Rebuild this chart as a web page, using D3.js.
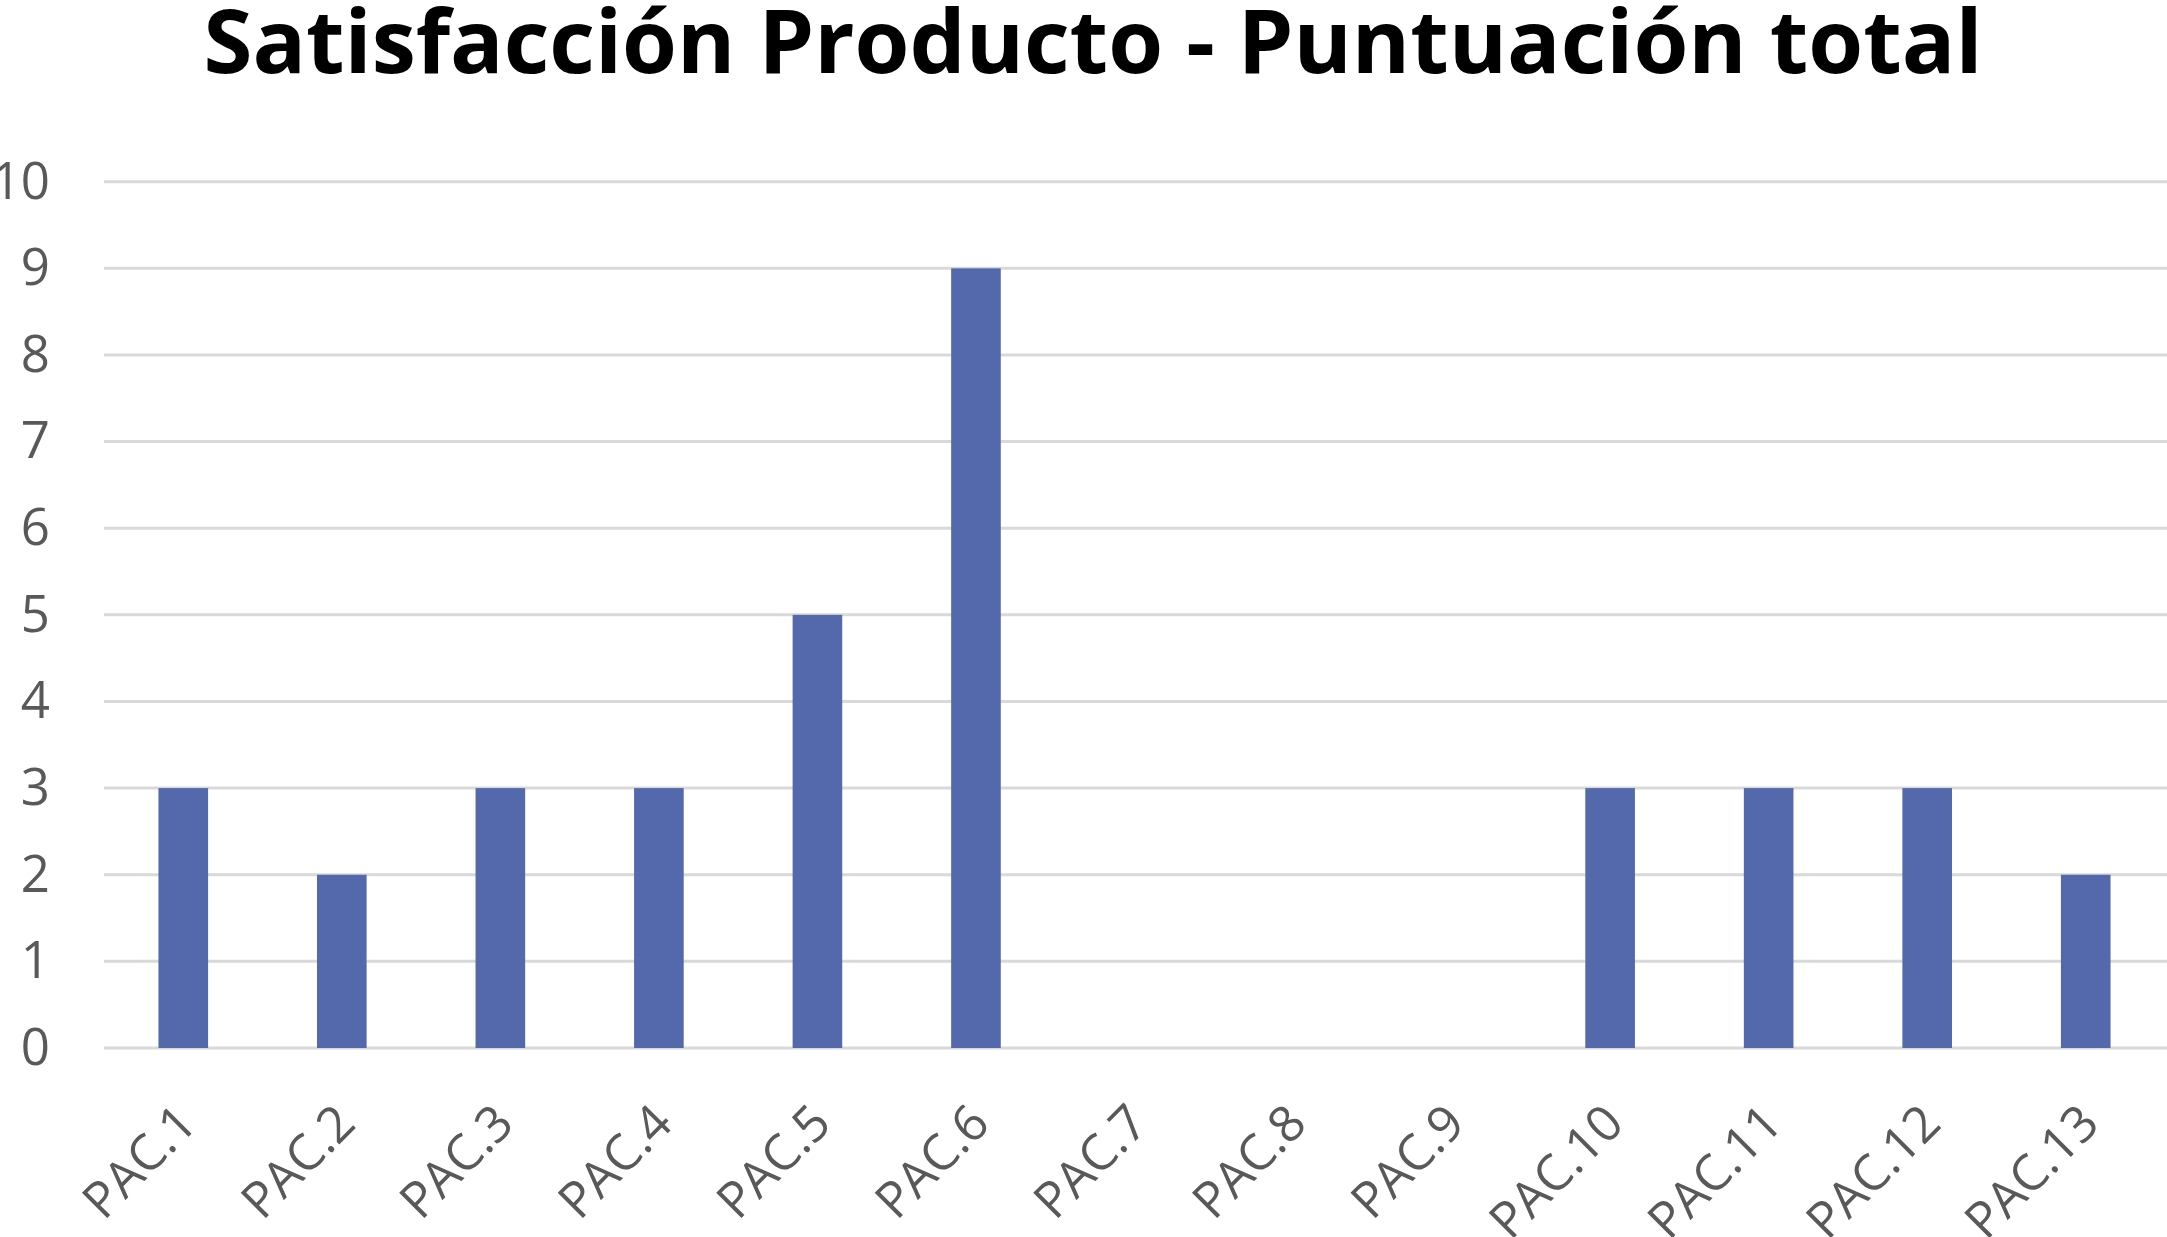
<!DOCTYPE html>
<html><head><meta charset="utf-8">
<script src="https://cdn.jsdelivr.net/npm/d3@7"></script>
<style>html,body{margin:0;padding:0;background:#fff;overflow:hidden}</style>
</head><body>
<svg id="chart" width="2167" height="1237"></svg>
<script>
const categories = ["PAC.1","PAC.2","PAC.3","PAC.4","PAC.5","PAC.6","PAC.7","PAC.8","PAC.9","PAC.10","PAC.11","PAC.12","PAC.13"];
const values = [3,2,3,3,5,9,0,0,0,3,3,3,2];
const yTicks = [0,1,2,3,4,5,6,7,8,9,10];
const title = "Satisfacción Producto - Puntuación total";

(function(){
const svg = d3.select("#chart");
const font = "'Open Sans', 'Noto Sans', sans-serif";
const pLeft = 104, pRight = 2165, pTop = 181.7, pBottom = 1048;

const x = d3.scaleBand().domain(categories).range([pLeft, pRight]).padding(0);
const y = d3.scaleLinear().domain([0, 10]).range([pBottom, pTop]);

svg.append("g").selectAll("line").data(yTicks).join("line")
  .attr("x1", pLeft).attr("x2", 2167)
  .attr("y1", d => y(d)).attr("y2", d => y(d))
  .attr("stroke", "#d9d9d9").attr("stroke-width", 3);

const yAxis = svg.append("g").attr("transform", `translate(${pLeft},0)`)
  .call(d3.axisLeft(y).tickValues(yTicks).tickSize(0).tickPadding(54).tickFormat(d3.format("d")));
yAxis.select(".domain").remove();
yAxis.selectAll("text").attr("font-family", font).attr("font-size", 51).attr("fill", "#595959");

const barFrac = 0.313;
svg.append("g").selectAll("rect").data(values).join("rect")
  .attr("x", (d, i) => x(categories[i]) + x.bandwidth() * (1 - barFrac) / 2)
  .attr("width", x.bandwidth() * barFrac)
  .attr("y", d => y(d))
  .attr("height", d => y(0) - y(d))
  .attr("fill", "#5469ab");

const xAxis = svg.append("g").attr("transform", `translate(0,${pBottom})`)
  .call(d3.axisBottom(x).tickSize(0).tickPadding(0));
xAxis.select(".domain").remove();
xAxis.selectAll("text")
  .attr("font-family", font).attr("font-size", 50).attr("fill", "#595959")
  .attr("text-anchor", "end").attr("dy", 0).attr("y", 0)
  .attr("transform", "translate(16,78) rotate(-45)");

svg.append("text").attr("x", 1093).attr("y", 73)
  .attr("text-anchor", "middle")
  .attr("font-family", font).attr("font-weight", 700).attr("font-size", 88)
  .attr("textLength", 1779).attr("lengthAdjust", "spacingAndGlyphs")
  .attr("fill", "#000").text(title);
})();
</script>
</body></html>
